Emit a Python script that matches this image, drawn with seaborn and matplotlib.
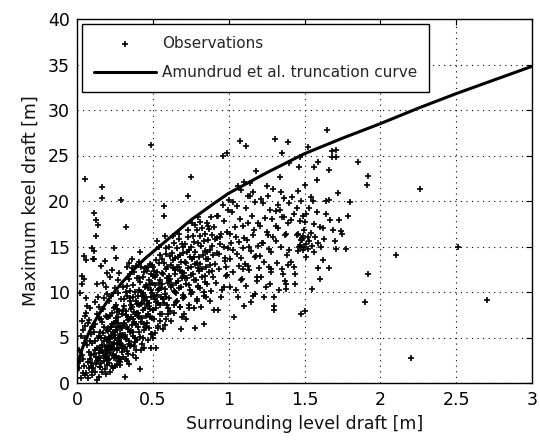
import matplotlib
matplotlib.use("Agg")
import matplotlib.pyplot as plt
import seaborn as sns
import pandas as pd

# ---- data ----
curve_x = [0.002, 0.005, 0.01, 0.02, 0.035, 0.05, 0.075, 0.1, 0.125, 0.15, 0.2, 0.25, 0.3, 0.35,
           0.4, 0.45, 0.5, 0.6, 0.75, 0.9, 1.0, 1.25, 1.5, 1.75, 2.0, 2.25, 2.5, 2.75, 3.0]
curve_y = [1.3, 1.8, 2.3, 3.0, 3.8, 4.4, 5.4, 6.3, 7.0, 7.7, 9.0, 10.1, 11.1, 12.0,
           12.9, 13.7, 14.4, 15.8, 17.9, 19.7, 20.85, 23.1, 25.2, 26.9, 28.5, 30.2, 31.8, 33.3, 34.8]

observations = [
    # x 0.00-0.05
    (0.01,1.7),(0.02,9.9),(0.031,10.9),(0.035,11.8),(0.046,11.4),(0.028,5.2),(0.041,5.8),(0.052,6.3),
    (0.045,4.4),(0.018,2.4),(0.036,3.1),(0.04,1.1),(0.048,1.9),(0.025,0.6),(0.044,14.0),(0.033,6.8),
    (0.05,7.4),(0.015,3.6),(0.042,2.6),(0.05,0.9),
    # x 0.05-0.10
    (0.053,22.4),(0.062,13.5),(0.068,8.5),(0.06,7.7),(0.073,6.6),(0.081,6.9),(0.055,5.0),(0.066,4.2),
    (0.077,3.4),(0.087,2.6),(0.092,1.9),(0.097,1.2),(0.061,1.1),(0.082,1.6),(0.071,2.3),(0.091,3.1),
    (0.1,2.2),(0.086,4.6),(0.094,5.4),(0.099,6.1),(0.058,9.3),(0.089,8.2),(0.1,14.8),(0.075,0.5),(0.1,0.9),
    # x 0.10-0.15
    (0.11,14.5),(0.112,13.6),(0.104,13.6),(0.115,18.7),(0.126,17.9),(0.137,17.4),(0.126,16.2),(0.119,8.85),
    (0.13,10.9),(0.142,7.1),(0.118,6.5),(0.134,7.6),(0.107,6.2),(0.148,5.2),(0.121,4.6),(0.143,3.9),
    (0.113,3.2),(0.137,2.6),(0.149,2.8),(0.124,2.1),(0.106,1.6),(0.131,2.4),(0.117,3.6),(0.146,3.3),
    (0.128,2.9),(0.102,4.4),(0.139,4.9),(0.151,1.8),(0.13,0.3),(0.148,0.7),(0.12,1.2),(0.114,5.6),
    (0.135,3.9),(0.148,8.3),(0.138,9.4),
    # x 0.15-0.20
    (0.166,21.5),(0.166,20.3),(0.174,11.0),(0.19,0.96),(0.183,1.5),(0.158,2.2),(0.197,2.9),(0.171,3.3),
    (0.154,3.8),(0.188,3.1),(0.162,3.6),(0.199,4.1),(0.176,4.6),(0.157,4.9),(0.193,3.5),(0.168,4.2),
    (0.185,5.0),(0.152,5.6),(0.179,6.1),(0.196,5.8),(0.163,6.7),(0.189,7.4),(0.171,8.1),(0.155,7.0),
    (0.2,2.0),(0.166,1.2),(0.181,2.4),(0.153,1.8),(0.192,2.7),(0.198,7.2),(0.18,9.3),(0.19,10.6),
    (0.2,9.8),(0.16,12.9),(0.185,13.4),(0.2,12.1),(0.177,3.0),(0.159,3.5),(0.186,4.0),(0.172,5.5),
    # x 0.20-0.25
    (0.236,1.6),(0.208,2.2),(0.247,2.8),(0.219,3.3),(0.231,3.7),(0.244,3.0),(0.204,3.6),(0.228,4.1),
    (0.213,4.5),(0.249,4.9),(0.233,4.3),(0.216,4.8),(0.241,5.3),(0.207,5.7),(0.226,6.2),(0.238,5.5),
    (0.221,6.1),(0.246,6.6),(0.203,7.2),(0.231,7.7),(0.218,7.4),(0.242,8.2),(0.209,9.0),(0.227,9.6),
    (0.25,10.4),(0.243,14.8),(0.22,11.6),(0.23,12.4),(0.214,2.6),(0.239,3.1),(0.224,3.9),(0.205,2.5),
    (0.248,1.9),(0.217,1.2),(0.232,1.9),(0.211,4.0),(0.245,4.4),(0.222,5.2),(0.201,4.7),(0.235,5.6),
    (0.242,3.7),(0.212,5.1),(0.229,6.5),(0.25,8.3),(0.206,6.0),
    # x 0.25-0.30
    (0.26,13.7),(0.293,20.1),(0.283,2.3),(0.256,2.9),(0.297,3.4),(0.269,3.9),(0.288,4.3),(0.261,3.6),
    (0.294,4.1),(0.274,4.6),(0.252,5.0),(0.285,5.4),(0.277,4.9),(0.299,5.3),(0.264,5.8),(0.281,6.3),
    (0.258,6.8),(0.291,6.0),(0.272,6.6),(0.254,7.1),(0.296,7.6),(0.267,8.1),(0.279,7.9),(0.259,8.6),
    (0.289,9.2),(0.271,9.9),(0.3,10.5),(0.27,11.3),(0.28,12.1),(0.276,2.8),(0.262,2.0),(0.292,2.6),
    (0.268,2.4),(0.255,3.0),(0.284,4.4),(0.298,3.8),(0.263,4.3),(0.279,4.7),(0.257,6.1),(0.295,6.0),
    (0.286,5.2),(0.273,7.3),(0.265,7.8),(0.285,2.0),(0.251,5.6),
    # x 0.30-0.35
    (0.318,0.66),(0.325,17.1),(0.337,3.2),(0.309,3.8),(0.346,4.3),(0.322,4.8),(0.304,5.3),(0.341,4.6),
    (0.316,5.1),(0.349,5.6),(0.328,6.1),(0.307,6.6),(0.334,5.9),(0.313,6.5),(0.344,7.0),(0.321,7.5),
    (0.302,8.0),(0.339,7.3),(0.326,7.9),(0.311,8.5),(0.347,9.0),(0.331,9.6),(0.31,9.2),(0.32,10.0),
    (0.33,10.7),(0.34,11.4),(0.35,12.0),(0.33,12.8),(0.345,13.2),(0.323,2.6),(0.342,2.1),(0.306,2.9),
    (0.332,3.5),(0.315,4.0),(0.348,4.1),(0.319,5.3),(0.336,6.9),(0.303,6.3),(0.35,9.3),(0.327,2.4),
    # x 0.35-0.40
    (0.364,13.6),(0.387,3.6),(0.358,4.2),(0.396,4.7),(0.372,5.2),(0.353,5.7),(0.381,5.0),(0.367,5.6),
    (0.399,6.1),(0.376,6.7),(0.359,7.2),(0.392,6.5),(0.371,7.0),(0.384,7.6),(0.356,8.1),(0.397,8.7),
    (0.378,7.8),(0.362,8.4),(0.389,9.0),(0.369,9.5),(0.352,10.1),(0.383,10.0),(0.37,10.8),(0.395,11.5),
    (0.374,12.2),(0.36,12.6),(0.386,12.9),(0.366,3.1),(0.391,2.7),(0.378,4.1),(0.355,8.6),(0.398,7.7),
    (0.363,6.4),(0.382,4.5),(0.4,9.6),
    # x 0.40-0.45
    (0.415,14.4),(0.417,1.5),(0.438,5.0),(0.406,5.6),(0.446,6.2),(0.423,6.7),(0.411,7.2),(0.441,6.5),
    (0.428,7.1),(0.404,7.7),(0.449,8.2),(0.419,8.7),(0.435,8.0),(0.412,8.6),(0.444,9.1),(0.426,9.6),
    (0.407,10.2),(0.439,9.4),(0.421,10.0),(0.448,10.6),(0.414,11.1),(0.432,11.7),(0.41,11.5),(0.442,12.2),
    (0.425,12.8),(0.408,13.3),(0.447,12.6),(0.431,4.3),(0.416,5.1),(0.443,5.8),(0.403,7.4),(0.429,8.8),
    (0.437,9.9),(0.422,3.6),(0.44,3.9),
    # x 0.45-0.50
    (0.49,26.1),(0.495,5.4),(0.5,4.9),(0.478,6.0),(0.459,6.6),(0.493,7.1),(0.467,7.6),(0.484,8.1),
    (0.455,7.4),(0.499,8.0),(0.472,8.5),(0.461,9.0),(0.488,9.5),(0.476,8.8),(0.453,9.4),(0.496,9.9),
    (0.468,10.4),(0.482,10.9),(0.491,10.2),(0.457,10.8),(0.474,11.3),(0.498,11.8),(0.463,12.3),(0.486,12.0),
    (0.452,12.6),(0.479,13.1),(0.494,13.0),(0.466,12.8),(0.471,4.7),(0.487,5.4),(0.458,6.2),(0.49,3.8),
    (0.481,7.2),(0.464,8.7),(0.497,11.0),
    # x 0.50-0.55
    (0.523,3.8),(0.53,15.6),(0.54,15.0),(0.537,6.3),(0.508,7.0),(0.546,7.6),(0.519,8.2),(0.532,8.8),
    (0.503,8.0),(0.548,8.6),(0.514,9.2),(0.527,9.7),(0.541,10.3),(0.506,9.6),(0.535,10.2),(0.517,10.8),
    (0.549,11.3),(0.524,11.9),(0.543,11.0),(0.511,11.6),(0.529,12.2),(0.501,12.7),(0.538,13.2),(0.52,13.5),
    (0.545,14.1),(0.513,5.5),(0.533,6.0),(0.55,6.8),(0.522,8.9),(0.509,12.3),
    # x 0.55-0.60
    (0.574,19.4),(0.574,18.4),(0.578,16.2),(0.585,14.2),(0.588,7.0),(0.562,7.6),(0.597,8.2),(0.571,8.8),
    (0.556,9.4),(0.593,8.6),(0.566,9.2),(0.582,9.8),(0.553,10.4),(0.599,11.0),(0.577,10.3),(0.561,10.9),
    (0.591,11.5),(0.569,12.0),(0.584,12.5),(0.558,12.1),(0.596,12.7),(0.572,13.2),(0.563,13.6),(0.6,7.6),
    (0.58,6.4),(0.59,14.8),(0.565,5.9),(0.585,9.5),
    # x 0.60-0.65
    (0.616,7.9),(0.637,8.6),(0.608,9.3),(0.646,10.0),(0.622,10.6),(0.604,11.2),(0.641,10.1),(0.627,10.8),
    (0.612,11.4),(0.649,12.0),(0.631,12.6),(0.606,11.8),(0.643,12.4),(0.619,13.0),(0.634,13.5),(0.611,14.0),
    (0.647,13.7),(0.626,14.3),(0.604,15.0),(0.639,15.4),(0.62,6.8),(0.64,7.7),(0.65,8.9),(0.63,16.1),(0.655,9.9),
    # x 0.65-0.70
    (0.687,5.9),(0.693,7.2),(0.682,8.3),(0.661,9.0),(0.697,9.7),(0.673,10.4),(0.656,11.0),(0.689,10.5),
    (0.668,11.2),(0.699,11.8),(0.677,12.3),(0.659,12.8),(0.694,12.2),(0.671,12.8),(0.684,13.3),(0.663,13.8),
    (0.698,14.3),(0.679,14.1),(0.657,14.8),(0.691,15.3),(0.672,15.8),(0.67,16.4),(0.69,11.5),(0.7,9.3),(0.68,8.4),
    # x 0.70-0.75
    (0.75,22.6),(0.735,20.5),(0.738,8.6),(0.707,9.4),(0.746,10.2),(0.721,10.9),(0.712,11.5),(0.741,10.8),
    (0.726,11.5),(0.704,12.1),(0.749,12.7),(0.717,13.2),(0.733,12.6),(0.709,13.3),(0.744,13.9),(0.723,14.4),
    (0.702,14.9),(0.739,14.6),(0.714,15.3),(0.729,16.0),(0.73,16.8),(0.705,7.6),(0.72,7.0),(0.74,8.2),(0.75,9.8),
    # x 0.75-0.80
    (0.78,6.0),(0.788,9.2),(0.757,10.0),(0.796,10.7),(0.771,11.3),(0.753,11.9),(0.784,11.3),(0.766,12.0),
    (0.799,12.6),(0.776,13.1),(0.759,13.6),(0.792,13.2),(0.769,13.8),(0.781,14.4),(0.754,14.9),(0.797,15.4),
    (0.774,15.5),(0.762,16.2),(0.789,16.8),(0.779,17.4),(0.77,8.2),(0.79,9.0),(0.8,10.5),(0.76,17.6),(0.8,18.2),
    # x 0.80-0.85
    (0.84,6.5),(0.837,9.6),(0.808,10.4),(0.846,11.1),(0.821,11.7),(0.803,12.3),(0.841,11.8),(0.827,12.5),
    (0.812,13.1),(0.849,13.6),(0.832,14.1),(0.806,13.9),(0.843,14.5),(0.818,15.1),(0.835,15.6),(0.811,16.1),
    (0.845,16.4),(0.826,17.0),(0.814,17.7),(0.82,8.4),(0.85,9.4),(0.835,10.0),
    # x 0.85-0.90
    (0.884,10.1),(0.857,10.9),(0.896,11.6),(0.869,12.2),(0.853,12.8),(0.891,12.3),(0.874,13.0),(0.862,13.6),
    (0.898,14.1),(0.879,14.6),(0.856,14.4),(0.888,15.1),(0.867,15.7),(0.893,16.3),(0.871,16.9),(0.859,17.6),
    (0.886,18.2),(0.88,9.0),(0.9,8.0),(0.865,17.2),
    # x 0.90-1.00
    (0.93,8.0),(0.96,25.0),(0.99,25.3),(0.957,10.2),(0.914,11.0),(0.982,11.8),(0.936,12.5),(0.908,13.1),
    (0.973,13.7),(0.921,14.3),(0.994,14.8),(0.946,15.3),(0.912,15.8),(0.978,13.4),(0.939,14.2),(0.966,15.0),
    (0.925,15.9),(0.989,16.6),(0.951,16.4),(0.904,17.1),(0.969,17.8),(0.932,18.4),(0.998,19.0),(0.95,9.4),
    (0.97,10.6),(0.99,11.9),(0.925,18.3),(0.965,19.6),(0.985,12.7),(0.945,16.0),
    # x 1.00-1.10
    (1.035,7.2),(1.075,26.6),(1.06,21.7),(1.08,21.2),(1.1,22.1),(1.064,9.4),(1.012,10.5),(1.088,11.4),
    (1.027,12.2),(1.071,12.9),(1.006,13.6),(1.053,14.2),(1.094,14.8),(1.018,15.4),(1.046,16.0),(1.082,13.7),
    (1.031,14.6),(1.068,15.5),(1.009,16.4),(1.097,17.3),(1.042,17.1),(1.077,18.0),(1.021,18.8),(1.058,19.5),
    (1.004,20.1),(1.05,10.2),(1.08,11.3),(1.1,8.5),(1.03,19.9),(1.095,12.5),
    # x 1.10-1.20
    (1.117,26.0),(1.18,23.3),(1.14,22.0),(1.163,9.6),(1.112,10.7),(1.187,11.6),(1.134,12.4),(1.106,13.1),
    (1.172,13.8),(1.148,14.5),(1.196,15.1),(1.123,15.7),(1.158,16.3),(1.181,14.0),(1.137,15.0),(1.104,15.9),
    (1.168,16.8),(1.127,17.6),(1.192,17.6),(1.151,18.4),(1.114,19.2),(1.176,19.9),(1.142,20.6),(1.13,20.5),
    (1.15,8.9),(1.19,11.2),(1.2,12.6),(1.16,21.0),(1.175,9.8),(1.125,12.9),
    # x 1.20-1.30
    (1.29,21.3),(1.3,8.5),(1.3,9.4),(1.3,8.0),(1.247,10.6),(1.213,11.6),(1.282,12.5),(1.236,13.3),
    (1.204,14.0),(1.268,14.7),(1.226,15.4),(1.291,16.0),(1.253,16.6),(1.277,14.4),(1.218,15.4),(1.261,16.3),
    (1.208,17.2),(1.286,18.0),(1.241,18.1),(1.272,19.0),(1.229,19.8),(1.258,20.5),(1.25,21.6),(1.23,9.4),
    (1.27,10.9),(1.28,12.2),(1.215,20.2),(1.265,12.7),
    # x 1.30-1.40
    (1.305,26.8),(1.39,26.5),(1.35,25.3),(1.34,22.6),(1.4,24.2),(1.37,11.2),(1.38,10.9),(1.38,10.3),
    (1.33,10.2),(1.356,12.0),(1.318,13.2),(1.384,14.1),(1.342,14.9),(1.309,15.6),(1.371,16.3),(1.326,17.0),
    (1.393,17.6),(1.351,18.2),(1.378,16.4),(1.314,17.3),(1.362,18.2),(1.337,19.0),(1.397,19.8),(1.322,19.6),
    (1.366,20.3),(1.346,21.0),(1.31,18.9),(1.35,12.5),(1.4,14.6),(1.39,13.0),
    # x 1.40-1.50
    (1.44,12.0),(1.44,10.9),(1.465,23.7),(1.47,24.8),(1.477,7.6),(1.5,7.9),(1.463,15.0),(1.482,15.7),
    (1.451,16.3),(1.494,16.8),(1.472,15.2),(1.486,15.9),(1.458,16.4),(1.497,15.0),(1.475,15.7),(1.489,16.2),
    (1.454,14.5),(1.478,14.9),(1.492,14.6),(1.41,17.9),(1.43,18.6),(1.45,19.2),(1.47,17.8),(1.49,18.3),
    (1.42,20.4),(1.46,21.1),(1.5,17.7),(1.41,13.3),(1.43,12.8),(1.48,20.0),
    # x 1.50-1.60
    (1.505,21.8),(1.52,25.9),(1.56,23.7),(1.59,24.3),(1.58,22.3),(1.55,10.3),(1.59,12.6),(1.6,11.4),
    (1.54,20.4),(1.555,20.0),(1.565,17.5),(1.51,15.3),(1.52,16.0),(1.53,15.6),(1.54,16.5),(1.55,15.1),
    (1.57,16.0),(1.59,15.4),(1.52,14.7),(1.56,14.4),(1.51,18.6),(1.53,19.2),(1.58,18.8),(1.6,17.1),(1.51,13.8),
    # x 1.60-1.80
    (1.62,17.0),(1.65,27.8),(1.68,25.5),(1.71,25.6),(1.68,24.8),(1.71,24.8),(1.66,23.4),(1.64,20.0),
    (1.66,20.1),(1.72,20.9),(1.80,19.9),(1.79,18.4),(1.66,12.6),(1.69,16.8),(1.74,16.7),(1.75,16.4),
    (1.70,15.6),(1.71,14.7),(1.775,14.7),(1.63,15.8),(1.61,14.9),(1.64,18.6),(1.67,17.9),(1.62,13.5),(1.73,17.9),
    # x beyond 1.8
    (1.85,24.3),(1.92,22.7),(1.91,21.8),(2.26,21.3),(2.10,14.1),(2.51,14.9),(1.92,12.0),(1.90,8.85),
    (2.70,9.15),(2.205,2.7),
]

x_ticks = [0, 0.5, 1, 1.5, 2, 2.5, 3]
x_tick_labels = ["0", "0.5", "1", "1.5", "2", "2.5", "3"]
y_ticks = [0, 5, 10, 15, 20, 25, 30, 35, 40]
y_tick_labels = ["0", "5", "10", "15", "20", "25", "30", "35", "40"]

obs_df = pd.DataFrame(observations, columns=["surrounding", "keel"])
curve_df = pd.DataFrame({"surrounding": curve_x, "keel": curve_y})

sns.set_style("white")
plt.rcParams["font.family"] = ["DejaVu Sans"]

fig = plt.figure(figsize=(5.40, 4.41), dpi=100)
ax = fig.add_axes([77 / 540, 58 / 441, 455 / 540, 364 / 441])

sns.scatterplot(data=obs_df, x="surrounding", y="keel", ax=ax, marker="+", s=14,
                color="black", linewidth=1.2, label="Observations", zorder=3)
sns.lineplot(data=curve_df, x="surrounding", y="keel", ax=ax, color="black",
             linewidth=2.2, label="Amundrud et al. truncation curve", zorder=4,
             estimator=None, sort=False)

ax.set_xlim(0, 3)
ax.set_ylim(0, 40)
ax.set_xticks(x_ticks)
ax.set_xticklabels(x_tick_labels)
ax.set_yticks(y_ticks)
ax.set_yticklabels(y_tick_labels)
ax.grid(True, linestyle=(0, (1, 4)), color="black", linewidth=0.8)
ax.set_axisbelow(True)
for s in ax.spines.values():
    s.set_visible(True)
    s.set_color("black")
    s.set_linewidth(1.0)
ax.tick_params(direction="in", length=4, width=0.8, top=True, right=True,
               labelsize=12.5, colors="black", pad=6)
ax.tick_params(axis="y", pad=5)
ax.set_xlabel("Surrounding level draft [m]", fontsize=12.5, color="#111111", labelpad=4)
ax.set_ylabel("Maximum keel draft [m]", fontsize=12.5, color="#111111", labelpad=6)

leg = ax.legend(loc="upper left", fontsize=11, frameon=True, fancybox=False,
                edgecolor="black", framealpha=1, handlelength=4.1, handletextpad=0.37,
                borderpad=0.75, labelspacing=0.95, borderaxespad=0.35)
leg.get_frame().set_linewidth(1.0)

fig.savefig("out.png", dpi=100)
